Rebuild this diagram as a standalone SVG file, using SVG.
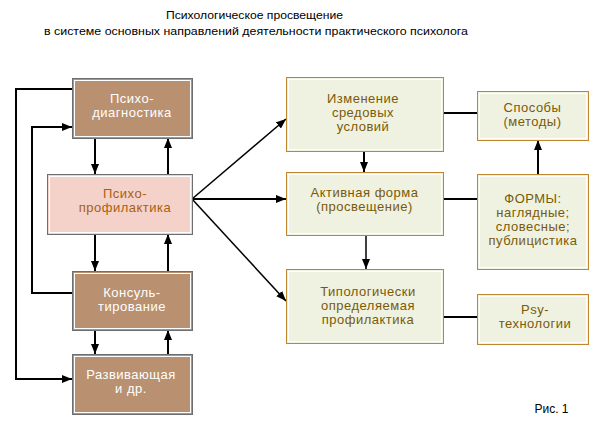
<svg xmlns="http://www.w3.org/2000/svg" width="600" height="427" viewBox="0 0 600 427">
<defs>
<marker id="ah" markerUnits="userSpaceOnUse" markerWidth="10" markerHeight="8" refX="10" refY="4" orient="auto">
<path d="M0,0 L10,4 L0,8 z" fill="#000"/>
</marker>
</defs>
<style>
text{font-family:"Liberation Sans",Arial,sans-serif;text-anchor:middle}
.title{font-size:11.5px;fill:#000}
.t{font-size:13px;letter-spacing:0.5px}
.brown .o{fill:#b99070;stroke:#6e6e6e;stroke-width:1}
.pink .o{fill:#f4d2ca;stroke:#6e6e6e;stroke-width:1}
.pale .o{fill:#eff2e0;stroke:#c0862a;stroke-width:1}
.i{fill:none;stroke:#fff;stroke-width:1}
.brown text{fill:#fff}
.pink text{fill:#a8600e}
.pale text{fill:#7a5a08}
.c{fill:none;stroke:#000;stroke-width:2}
.d{fill:none;stroke:#000;stroke-width:1.5}
</style>
<rect width="600" height="427" fill="#fff"/>
<g id="title">
<text class="title" x="254.5" y="19" textLength="177" lengthAdjust="spacingAndGlyphs">Психологическое просвещение</text>
<text class="title" x="256" y="35" textLength="424" lengthAdjust="spacingAndGlyphs">в системе основных направлений деятельности практического психолога</text>
</g>
<g id="connectors">
<path class="c" d="M72,89 H16 V379 H72" marker-end="url(#ah)"/>
<path class="c" d="M72,293 H32 V127 H72" marker-end="url(#ah)"/>
<path class="c" d="M95,138 V174" marker-end="url(#ah)"/>
<path class="c" d="M168,174 V138" marker-end="url(#ah)"/>
<path class="c" d="M95,234 V271" marker-end="url(#ah)"/>
<path class="c" d="M168,271 V234" marker-end="url(#ah)"/>
<path class="c" d="M95,330 V354" marker-end="url(#ah)"/>
<path class="c" d="M168,354 V330" marker-end="url(#ah)"/>
<path class="d" d="M192,199 L286,119" marker-end="url(#ah)"/>
<path class="c" d="M192,199 H286" marker-end="url(#ah)"/>
<path class="d" d="M192,199 L286,301" marker-end="url(#ah)"/>
<path class="c" d="M364,151 V172" marker-end="url(#ah)"/>
<path class="d" d="M366,235 V269" marker-end="url(#ah)"/>
<path class="c" d="M443,113 H477"/>
<path class="c" d="M443,199 H477"/>
<path class="c" d="M443,317 H477"/>
<path class="c" d="M538,174 V140" marker-end="url(#ah)"/>
</g>
<g id="psychodiagnostics" class="brown">
<rect class="o" x="72.5" y="78.5" width="120" height="60"/>
<rect class="i" x="74.5" y="80.5" width="116" height="56"/>
<text class="t" x="132" y="103">Психо-</text>
<text class="t" x="132" y="117">диагностика</text>
</g>
<g id="psychoprophylaxis" class="pink">
<rect class="o" x="47.5" y="174.5" width="145" height="60"/>
<rect class="i" x="49.5" y="176.5" width="141" height="56"/>
<text class="t" x="125" y="198">Психо-</text>
<text class="t" x="125" y="212">профилактика</text>
</g>
<g id="consulting" class="brown">
<rect class="o" x="72.5" y="271.5" width="120" height="59"/>
<rect class="i" x="74.5" y="273.5" width="116" height="55"/>
<text class="t" x="132" y="297">Консуль-</text>
<text class="t" x="132" y="311">тирование</text>
</g>
<g id="developing" class="brown">
<rect class="o" x="72.5" y="354.5" width="120" height="60"/>
<rect class="i" x="74.5" y="356.5" width="116" height="56"/>
<text class="t" x="131" y="379">Развивающая</text>
<text class="t" x="131" y="393">и др.</text>
</g>
<g id="environment" class="pale">
<rect class="o" x="286.5" y="77.5" width="157" height="74"/>
<rect class="i" x="288.5" y="79.5" width="153" height="70"/>
<text class="t" x="363" y="103">Изменение</text>
<text class="t" x="363" y="117">средовых</text>
<text class="t" x="363" y="131">условий</text>
</g>
<g id="active" class="pale">
<rect class="o" x="286.5" y="172.5" width="157" height="63"/>
<rect class="i" x="288.5" y="174.5" width="153" height="59"/>
<text class="t" x="364.5" y="197">Активная форма</text>
<text class="t" x="364.5" y="211">(просвещение)</text>
</g>
<g id="typological" class="pale">
<rect class="o" x="286.5" y="269.5" width="157" height="74"/>
<rect class="i" x="288.5" y="271.5" width="153" height="70"/>
<text class="t" x="368" y="296">Типологически</text>
<text class="t" x="368" y="310">определяемая</text>
<text class="t" x="368" y="324">профилактика</text>
</g>
<g id="methods" class="pale">
<rect class="o" x="477.5" y="91.5" width="111" height="49"/>
<rect class="i" x="479.5" y="93.5" width="107" height="45"/>
<text class="t" x="532.5" y="112">Способы</text>
<text class="t" x="532.5" y="126">(методы)</text>
</g>
<g id="forms" class="pale">
<rect class="o" x="477.5" y="174.5" width="111" height="95"/>
<rect class="i" x="479.5" y="176.5" width="107" height="91"/>
<text class="t" x="533" y="203">ФОРМЫ:</text>
<text class="t" x="533" y="217">наглядные;</text>
<text class="t" x="533" y="231">словесные;</text>
<text class="t" x="533" y="245">публицистика</text>
</g>
<g id="psytech" class="pale">
<rect class="o" x="477.5" y="294.5" width="111" height="50"/>
<rect class="i" x="479.5" y="296.5" width="107" height="46"/>
<text class="t" x="535" y="314">Psy-</text>
<text class="t" x="535" y="328">технологии</text>
</g>
<text x="551.5" y="413" style="font-size:12px;fill:#000">Рис. 1</text>
</svg>
